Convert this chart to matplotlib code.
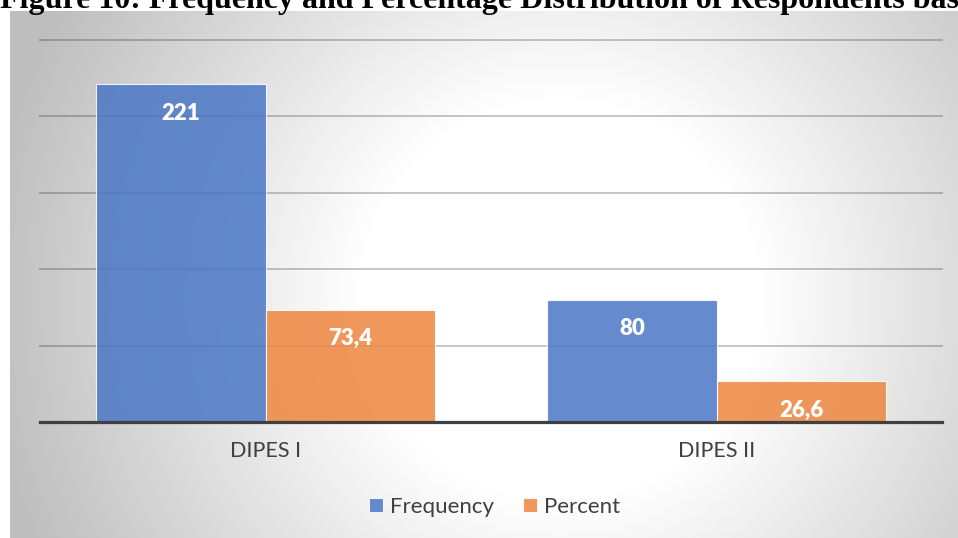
import matplotlib
matplotlib.use("Agg")
import matplotlib.pyplot as plt
import numpy as np

# values per programme
categories = ["DIPES I", "DIPES II"]
frequency = [221, 80]
percent = [73.4, 26.6]
freq_labels = ["221", "80"]
pct_labels = ["73,4", "26,6"]
series_names = ["Frequency", "Percent"]
title = "Figure 10: Frequency and Percentage Distribution of Respondents bas"

W, H = 958, 538
blue = "#4a77c6"
orange = "#ee853f"
text_grey = "#404040"

plt.rcParams["font.family"] = ["Lato", "DejaVu Sans"]

fig = plt.figure(figsize=(W / 100, H / 100), dpi=100)
fig.patch.set_facecolor("white")

# chart area with a soft radial grey fill
bg = fig.add_axes([10 / W, 0, (W - 10) / W, (H - 11) / H])
xx, yy = np.meshgrid(np.arange(10, W), np.arange(11, H))
d = np.hypot(xx - 560, yy - 300)
shade = 255 - 65 * np.clip((d - 200) / 380, 0, 1)
img = np.dstack([shade, shade, shade]) / 255.0
bg.imshow(img, aspect="auto", extent=[0, 1, 0, 1], interpolation="bilinear")
bg.set_axis_off()

ax = fig.add_axes([40 / W, (H - 422) / H, 902 / W, 382 / H])
ax.patch.set_alpha(0)

x = np.arange(len(categories))
width = 0.375
b1 = ax.bar(x - width / 2, frequency, width, color=blue, alpha=0.85,
            edgecolor=(1, 1, 1, 0.6), linewidth=0.8, label=series_names[0], zorder=3)
b2 = ax.bar(x + width / 2, percent, width, color=orange, alpha=0.85,
            edgecolor=(1, 1, 1, 0.6), linewidth=0.8, label=series_names[1], zorder=3)

for bars, labels in [(b1, freq_labels), (b2, pct_labels)]:
    for rect, lab in zip(bars, labels):
        ax.annotate(lab, (rect.get_x() + rect.get_width() / 2, rect.get_height()),
                    xytext=(0, -29), textcoords="offset pixels",
                    ha="center", va="center", color="white",
                    fontsize=16, fontweight="heavy", zorder=4)

ax.set_xlim(-0.5, 1.5)
ax.set_ylim(0, 250)
for yv in [50, 100, 150, 200, 250]:
    ax.axhline(yv, color=(0, 0, 0, 0.22), linewidth=1.4, zorder=1, clip_on=False)

for s in ["top", "left", "right"]:
    ax.spines[s].set_visible(False)
ax.spines["bottom"].set_color(text_grey)
ax.spines["bottom"].set_linewidth(2.3)
ax.spines["bottom"].set_zorder(5)

ax.set_yticks([])
ax.set_xticks(x)
ax.set_xticklabels(categories, fontsize=15.5, color=text_grey)
ax.tick_params(axis="x", length=0, pad=14)

leg = fig.legend(loc="center", bbox_to_anchor=(495 / W, 1 - 507 / H), ncol=2,
                 frameon=False, fontsize=16, handlelength=0.6, handleheight=0.6,
                 handletextpad=0.35, columnspacing=1.3, labelcolor=text_grey)

fig.text(0.0, 1 - 8 / H, title, ha="left", va="baseline", fontsize=23,
         fontweight="bold", family="Liberation Serif", color="black")

fig.savefig("out.png", dpi=100)
